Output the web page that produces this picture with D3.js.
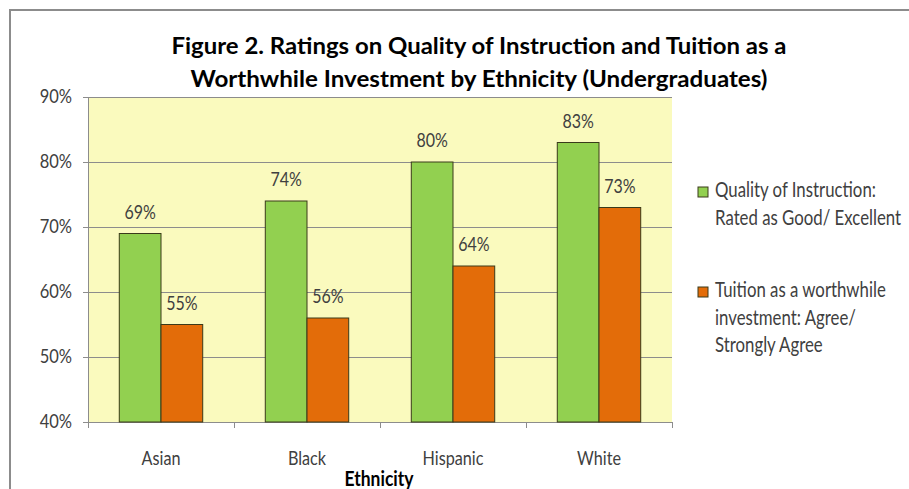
<!DOCTYPE html>
<html><head><meta charset="utf-8">
<script src="https://cdn.jsdelivr.net/npm/d3@7"></script>
<style>body{margin:0;background:#fff;} svg{display:block;} text{font-family:Lato,"Open Sans",sans-serif;}</style>
</head><body>
<svg id="c" width="909" height="489"></svg>
<script>
const categories = ["Asian","Black","Hispanic","White"];
const quality = [69,74,80,83];
const tuition = [55,56,64,73];
const seriesNames = ["Quality of Instruction:|Rated as Good/ Excellent","Tuition as a worthwhile|investment: Agree/|Strongly Agree"];
const yTicks = [40,50,60,70,80,90];
const titleLines = ["Figure 2. Ratings on Quality of Instruction and Tuition as a","Worthwhile Investment by Ethnicity (Undergraduates)"];
const colors = ["#92D050","#E36C09"];

(function(){
const svg = d3.select("#c");
const SY = 1.2;
const tr = (x,y)=>`translate(${x},${y}) scale(1,${SY})`;
svg.append("path").attr("d","M10,489 L10,10 L909,10").attr("fill","none").attr("stroke","#8c8c8c").attr("stroke-width",2);

const pL=88,pR=672,pT=97,pB=422;
const x = d3.scaleBand().domain(categories).range([pL,pR]);
const y = d3.scaleLinear().domain([40,90]).range([pB,pT]);

svg.append("rect").attr("x",pL).attr("y",pT).attr("width",pR-pL).attr("height",pB-pT).attr("fill","#FAFABE");
svg.append("g").selectAll("line").data(yTicks).join("line")
  .attr("x1",pL).attr("x2",pR).attr("y1",d=>y(d)+0.5).attr("y2",d=>y(d)+0.5)
  .attr("stroke","#8c8c8c").attr("stroke-width",1);

const yAxis = d3.axisLeft(y).tickValues(yTicks).tickFormat("").tickSize(5).tickSizeOuter(0);
const gy = svg.append("g").attr("transform",`translate(${pL},0)`).call(yAxis);
gy.select(".domain").attr("stroke","#8c8c8c");
gy.selectAll(".tick line").attr("stroke","#8c8c8c");
svg.append("g").selectAll("text").data(yTicks).join("text")
  .attr("transform",d=>tr(pL-16,y(d)+6)).attr("text-anchor","end")
  .attr("font-size",16.5).attr("fill","#404040").text(d=>d+"%");

svg.append("line").attr("x1",pL).attr("x2",pR).attr("y1",pB+0.5).attr("y2",pB+0.5).attr("stroke","#8c8c8c");
const bounds = categories.map(c=>x(c)).concat([pR]);
svg.append("g").selectAll("line").data(bounds).join("line")
  .attr("x1",d=>d+0.5).attr("x2",d=>d+0.5).attr("y1",pB).attr("y2",pB+6).attr("stroke","#8c8c8c");
svg.append("g").selectAll("text").data(categories).join("text")
  .attr("transform",d=>tr(x(d)+x.bandwidth()/2,465)).attr("text-anchor","middle")
  .attr("font-size",16.2).attr("fill","#404040").text(d=>d);
svg.append("text").attr("transform",tr(379,486)).attr("text-anchor","middle").attr("font-size",17.5).attr("font-weight","bold").attr("fill","#000").text("Ethnicity");

const inner = d3.scaleBand().domain([0,1]).range([0,x.bandwidth()]).paddingInner(0).paddingOuter(0.75);
const data = [];
categories.forEach((c,i)=>{ data.push({c,s:0,v:quality[i]}); data.push({c,s:1,v:tuition[i]}); });
svg.append("g").selectAll("rect").data(data).join("rect")
  .attr("x",d=>x(d.c)+inner(d.s)).attr("width",inner.bandwidth())
  .attr("y",d=>y(d.v)).attr("height",d=>pB-y(d.v))
  .attr("fill",d=>colors[d.s]).attr("stroke","#3a3a1a").attr("stroke-width",1);
svg.append("g").selectAll("text").data(data).join("text")
  .attr("transform",d=>tr(x(d.c)+inner(d.s)+inner.bandwidth()/2,y(d.v)-15))
  .attr("text-anchor","middle").attr("font-size",16).attr("fill","#404040").text(d=>d.v+"%");

svg.append("g").selectAll("text").data(titleLines).join("text")
  .attr("x",479).attr("y",(d,i)=>54+i*33).attr("text-anchor","middle")
  .attr("font-size",23).attr("font-weight","bold").attr("fill","#000")
  .attr("textLength",(d,i)=>i===0?615:577).attr("lengthAdjust","spacingAndGlyphs").text(d=>d);

const legY = [192,292];
seriesNames.forEach((n,i)=>{
  svg.append("rect").attr("x",698).attr("y",legY[i]-5).attr("width",10).attr("height",10)
    .attr("fill",colors[i]).attr("stroke","#3a3a1a").attr("stroke-width",1);
  n.split("|").forEach((ln,j)=>{
    svg.append("text").attr("transform",tr(715,legY[i]+5+j*27.5)).attr("font-size",16.8).attr("fill","#404040").text(ln);
  });
});
})();
</script>
</body></html>
